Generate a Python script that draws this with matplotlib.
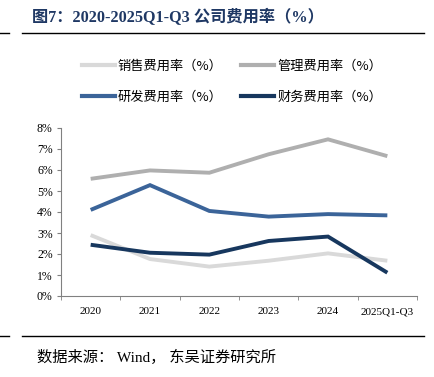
import matplotlib
matplotlib.use("Agg")
import matplotlib.pyplot as plt
from matplotlib.lines import Line2D

plt.rcParams['font.family'] = ['Liberation Serif', 'Noto Sans CJK SC', 'DejaVu Sans']

categories = ["2020", "2021", "2022", "2023", "2024", "2025Q1-Q3"]
sales = [2.90, 1.76, 1.40, 1.68, 2.03, 1.68]
admin = [5.58, 5.98, 5.87, 6.75, 7.46, 6.66]
rnd = [4.10, 5.28, 4.05, 3.78, 3.90, 3.84]
finance = [2.44, 2.06, 1.97, 2.62, 2.83, 1.11]
yticks = [0, 1, 2, 3, 4, 5, 6, 7, 8]

names = ["销售费用率（%）", "管理费用率（%）", "研发费用率（%）", "财务费用率（%）"]
colors = ["#d9d9d9", "#afafaf", "#3b6499", "#17375e"]

fig = plt.figure(figsize=(4.34, 3.77), dpi=100)
W, H = 434, 377
ax = fig.add_axes([61 / W, 1 - 296 / H, (417 - 61) / W, (296 - 128) / H])

x = list(range(len(categories)))
for vals, c in zip([sales, admin, rnd, finance], colors):
    ax.plot(x, vals, color=c, lw=2.8, solid_capstyle='butt', solid_joinstyle='miter')

ax.set_xlim(-0.5, len(categories) - 0.5)
ax.set_ylim(0, 8)
ax.set_yticks(yticks)
ax.set_yticklabels([f"{v}%" for v in yticks], fontsize=8.5)
ax.set_xticks(x)
ax.set_xticklabels(categories, fontsize=8)
ax.set_xticks([i - 0.5 for i in range(len(categories) + 1)], minor=True)
ax.tick_params(axis='x', which='major', length=0, pad=8)
ax.tick_params(axis='x', which='minor', length=3, color='#808080', direction='out')
ax.tick_params(axis='y', length=3, color='#808080', pad=3)
for s in ['top', 'right']:
    ax.spines[s].set_visible(False)
for s in ['left', 'bottom']:
    ax.spines[s].set_color('#808080')
    ax.spines[s].set_linewidth(0.8)

# Title
fig.text(32 / W, 1 - 18 / H, "图7：2020-2025Q1-Q3 公司费用率（%）", fontsize=11.7,
         fontweight='bold', color='#1f3864', va='center', ha='left',
         family=['Liberation Serif', 'Noto Sans CJK SC'])
fig.add_artist(Line2D([22 / W, 424 / W], [1 - 33 / H, 1 - 33 / H], color='black', lw=1.0))
fig.add_artist(Line2D([0, 9 / W], [1 - 33 / H, 1 - 33 / H], color='black', lw=1.0))
fig.add_artist(Line2D([22 / W, 424 / W], [1 - 336 / H, 1 - 336 / H], color='black', lw=1.0))
fig.add_artist(Line2D([0, 9 / W], [1 - 336 / H, 1 - 336 / H], color='black', lw=1.0))

# Legend (row-wise order: sales, admin / rnd, finance)
handles = [Line2D([0], [0], color=c, lw=3) for c in colors]
order = [0, 2, 1, 3]
fig.legend([handles[i] for i in order], [names[i] for i in order], loc='center',
           bbox_to_anchor=(232 / W, 1 - 81.5 / H),
           ncol=2, frameon=False, handlelength=2.5, handletextpad=0.25,
           columnspacing=1.4, labelspacing=1.35,
           prop={'family': ['Noto Sans CJK SC'], 'size': 9.5})

# Source
fig.text(37 / W, 1 - 357 / H, "数据来源： Wind， 东吴证券研究所", fontsize=11,
         va='center', ha='left', family=['Liberation Serif', 'Noto Sans CJK SC'])

fig.savefig("out.png", dpi=100)
